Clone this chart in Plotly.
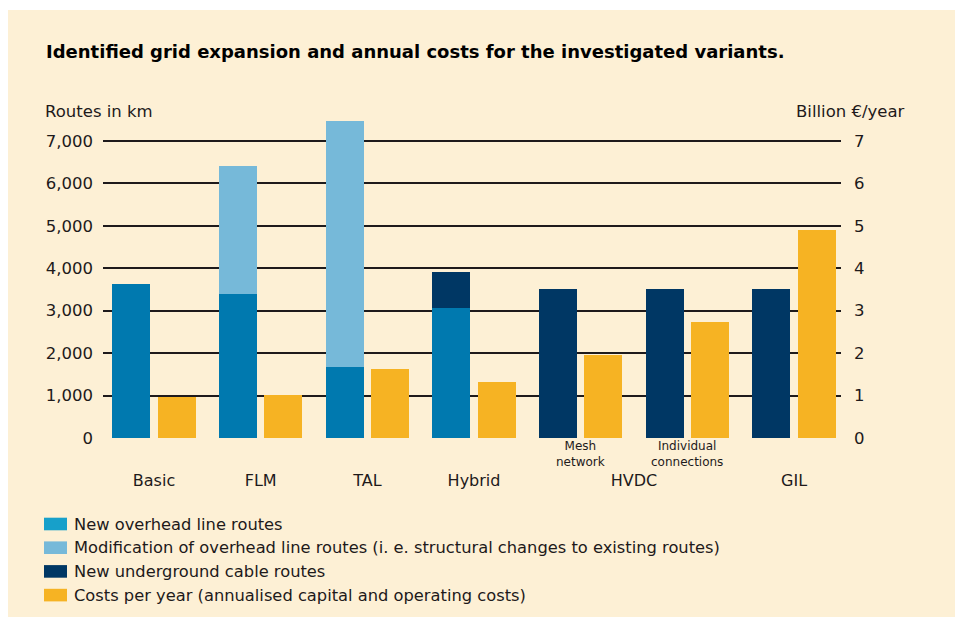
import plotly.graph_objects as go

# ---------------- data ----------------
variants = ["Basic", "FLM", "TAL", "Hybrid", "HVDC mesh network", "HVDC individual connections", "GIL"]
new_overhead = [3630, 3390, 1680, 3060, None, None, None]          # km
modification = [None, 3020, 5790, None, None, None, None]          # km (stacked on top)
underground = [None, None, None, 850, 3510, 3510, 3510]            # km (stacked on top)
costs = [0.97, 1.01, 1.63, 1.32, 1.96, 2.74, 4.90]                 # billion EUR / year

group_labels = ["Basic", "FLM", "TAL", "Hybrid", "HVDC", "GIL"]
group_label_pos = [0, 1, 2, 3, 4.5, 6]
sub_labels = ["Mesh<br>network", "Individual<br>connections"]
sub_label_pos = [4, 5]

route_ticks = [0, 1000, 2000, 3000, 4000, 5000, 6000, 7000]
route_ticktext = ["0", "1,000", "2,000", "3,000", "4,000", "5,000", "6,000", "7,000"]
cost_ticks = [0, 1, 2, 3, 4, 5, 6, 7]

title = "Identified grid expansion and annual costs for the investigated variants."
left_title = "Routes in km"
right_title = "Billion €/year"

legend_labels = [
    "New overhead line routes",
    "Modification of overhead line routes (i. e. structural changes to existing routes)",
    "New underground cable routes",
    "Costs per year (annualised capital and operating costs)",
]
legend_colors = ["#17A0CA", "#76B9D9", "#003764", "#F6B323"]

# ---------------- styling ----------------
C_OVER = "#0079AF"
C_MOD = "#76B9D9"
C_UND = "#003764"
C_COST = "#F6B323"
BG = "#FDF0D5"
INK = "#1E1A1B"
FONT = "DejaVu Sans"

# page is drawn with an 8px body margin
OX, OY = 8, 8
W, H = 963 - OX, 618 - OY
# plot area in page pixels
L, R, T, B = 103, 841, 115, 438
OFF = 0.2133
BW = 0.356


def px_x(p):
    return (p - L) / (R - L)


def px_y(p):
    return (B - p) / (B - T)


n = len(variants)
x_route = [i - OFF for i in range(n)]
x_cost = [i + OFF for i in range(n)]

fig = go.Figure()
fig.add_trace(go.Bar(x=x_route, y=new_overhead, width=BW, marker=dict(color=C_OVER, line=dict(width=0)),
                     name=legend_labels[0], showlegend=False, hoverinfo="y"))
fig.add_trace(go.Bar(x=x_route, y=modification, width=BW, marker=dict(color=C_MOD, line=dict(width=0)),
                     name=legend_labels[1], showlegend=False, hoverinfo="y"))
fig.add_trace(go.Bar(x=x_route, y=underground, width=BW, marker=dict(color=C_UND, line=dict(width=0)),
                     name=legend_labels[2], showlegend=False, hoverinfo="y"))
fig.add_trace(go.Bar(x=x_cost, y=costs, width=BW, marker=dict(color=C_COST, line=dict(width=0)),
                     name=legend_labels[3], showlegend=False, yaxis="y2", hoverinfo="y"))

ytop = 7000 * (B - T) / (B - 141)

shapes = [dict(type="rect", xref="paper", yref="paper", layer="below",
               x0=px_x(7), x1=px_x(955), y0=px_y(617), y1=px_y(10),
               fillcolor=BG, line=dict(width=0))]

annotations = [
    dict(text=title, xref="paper", yref="paper", x=px_x(44), y=px_y(52), xanchor="left", yanchor="middle",
         showarrow=False, font=dict(family=FONT, size=18, color="#000", weight=700)),
    dict(text=left_title, xref="paper", yref="paper", x=px_x(43), y=px_y(112), xanchor="left", yanchor="middle",
         showarrow=False, font=dict(family=FONT, size=16.5, color=INK)),
    dict(text=right_title, xref="paper", yref="paper", x=px_x(907), y=px_y(112), xanchor="right", yanchor="middle",
         showarrow=False, font=dict(family=FONT, size=16.5, color=INK)),
]
for pos, lab in zip(sub_label_pos, sub_labels):
    annotations.append(dict(text=lab, xref="x", yref="paper", x=pos, y=px_y(454), xanchor="center",
                            yanchor="middle", showarrow=False, font=dict(family=FONT, size=12, color=INK)))

for k, (lab, col) in enumerate(zip(legend_labels, legend_colors)):
    cy = 524 + 23.7 * k
    shapes.append(dict(type="rect", xref="paper", yref="paper", x0=px_x(44), x1=px_x(67),
                       y0=px_y(cy + 6.3), y1=px_y(cy - 6.3), fillcolor=col, line=dict(width=0)))
    annotations.append(dict(text=lab, xref="paper", yref="paper", x=px_x(72), y=px_y(cy), xanchor="left",
                            yanchor="middle", showarrow=False, font=dict(family=FONT, size=16.3, color=INK)))

fig.update_layout(
    width=W, height=H,
    margin=dict(l=L - OX, r=W - (R - OX), t=T - OY, b=H - (B - OY), pad=0),
    paper_bgcolor="white", plot_bgcolor="rgba(0,0,0,0)",
    barmode="stack", showlegend=False,
    font=dict(family=FONT, color=INK),
    xaxis=dict(range=[(L - 154) / 106.68, (R - 154) / 106.68], tickvals=group_label_pos, ticktext=group_labels,
               showgrid=False, zeroline=False, showline=False, ticks="", ticklabelstandoff=31,
               tickfont=dict(family=FONT, size=16, color=INK)),
    yaxis=dict(range=[0, ytop], tickvals=route_ticks, ticktext=route_ticktext, showgrid=True,
               gridcolor=INK, gridwidth=1.6, zeroline=False, showline=False, ticks="", ticklabelstandoff=9,
               tickfont=dict(family=FONT, size=16.5, color=INK)),
    yaxis2=dict(range=[0, ytop / 1000], overlaying="y", side="right", tickvals=cost_ticks, showgrid=False,
                zeroline=False, showline=False, ticks="", ticklabelstandoff=12,
                tickfont=dict(family=FONT, size=16.5, color=INK)),
    shapes=shapes, annotations=annotations,
)

fig.write_html("out.html")
